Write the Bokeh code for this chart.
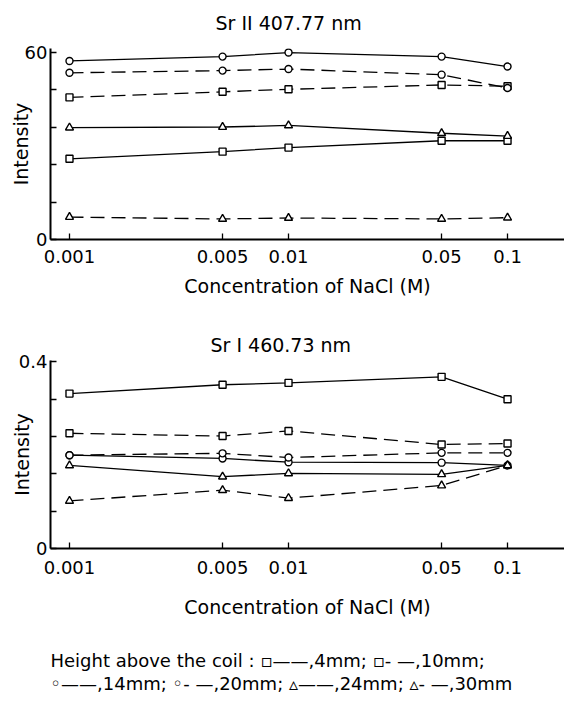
from bokeh.plotting import figure
from bokeh.models import Range1d, FixedTicker, PrintfTickFormatter, Label
from bokeh.layouts import column
from bokeh.embed import file_html
from bokeh.resources import INLINE

# ---- data ----
conc = [0.001, 0.005, 0.01, 0.05, 0.1]
x_tick_labels = ["0.001", "0.005", "0.01", "0.05", "0.1"]
heights = ["4mm", "10mm", "14mm", "20mm", "24mm", "30mm"]

sr2_4mm = [25.9, 28.2, 29.5, 31.7, 31.7]
sr2_10mm = [45.6, 47.4, 48.2, 49.6, 49.2]
sr2_14mm = [57.3, 58.7, 60.0, 58.7, 55.5]
sr2_20mm = [53.5, 54.2, 54.7, 52.9, 48.6]
sr2_24mm = [35.9, 36.1, 36.6, 34.1, 33.2]
sr2_30mm = [7.2, 6.6, 6.9, 6.6, 7.0]

sr1_4mm = [0.332, 0.351, 0.355, 0.368, 0.320]
sr1_10mm = [0.247, 0.241, 0.252, 0.223, 0.225]
sr1_14mm = [0.200, 0.193, 0.185, 0.184, 0.178]
sr1_20mm = [0.200, 0.204, 0.195, 0.205, 0.205]
sr1_24mm = [0.178, 0.154, 0.161, 0.159, 0.178]
sr1_30mm = [0.102, 0.125, 0.108, 0.135, 0.178]

sr2_series = [sr2_4mm, sr2_10mm, sr2_14mm, sr2_20mm, sr2_24mm, sr2_30mm]
sr1_series = [sr1_4mm, sr1_10mm, sr1_14mm, sr1_20mm, sr1_24mm, sr1_30mm]

# ---- styles ----
FONT = "DejaVu Sans"
FS = "18px"
FS_BIG = "19px"
W = 564
markers = ["square", "square", "circle", "circle", "triangle", "triangle"]
dashes = ["solid", "14 7", "solid", "14 7", "solid", "14 7"]
msize = [7, 7, 7, 7, 8, 8]


def text_strip(height, items):
    """A blank figure whose frame is used as a pixel canvas for text."""
    t = figure(width=W, height=height, x_range=Range1d(50, W), y_range=Range1d(0, height),
               output_backend="svg", toolbar_location=None,
               x_axis_location=None, y_axis_location=None,
               min_border_left=50, min_border_right=0,
               min_border_top=0, min_border_bottom=0)
    t.outline_line_color = None
    t.grid.visible = False
    for txt, x, y, fs in items:
        t.add_layout(Label(x=x, y=y, text=txt, text_font=FONT, text_font_size=fs,
                           text_baseline="middle", text_color="black"))
    return t


def panel(title, series, y_end, y_major, y_minor, height, b_top, b_bottom,
          t_offset, t_standoff, lab_standoff, axlab_standoff, ylab_standoff):
    p = figure(width=W, height=height, x_axis_type="log",
               x_range=Range1d(0.000819, 0.182), y_range=Range1d(0, y_end),
               output_backend="svg", toolbar_location=None,
               min_border_left=50, min_border_right=0,
               min_border_top=b_top, min_border_bottom=b_bottom)
    p.outline_line_color = None
    p.grid.visible = False
    p.background_fill_color = "white"
    p.border_fill_color = "white"

    if title:
        p.title.text = title
        p.title.text_font = FONT
        p.title.text_font_size = FS_BIG
        p.title.text_font_style = "normal"
        p.title.text_color = "black"
        p.title.align = "left"
        p.title.offset = t_offset
        p.title.standoff = t_standoff

    for ys, mk, dash, ms in zip(series, markers, dashes, msize):
        p.line(conc, ys, line_color="black", line_width=1.3, line_dash=dash)
        p.scatter(conc, ys, marker=mk, size=ms, line_color="black",
                  line_width=1.4, fill_color="white")

    xa = p.xaxis[0]
    xa.ticker = FixedTicker(ticks=conc)
    xa.formatter = PrintfTickFormatter(format="%g")
    xa.axis_label = "Concentration of NaCl (M)"
    ya = p.yaxis[0]
    ya.ticker = FixedTicker(ticks=y_major, minor_ticks=y_minor)
    ya.axis_label = "Intensity"
    for ax in (xa, ya):
        ax.axis_line_width = 2
        ax.axis_line_color = "black"
        ax.major_tick_in = 6
        ax.major_tick_out = 0
        ax.minor_tick_in = 6
        ax.minor_tick_out = 0
        ax.major_tick_line_width = 1.3
        ax.minor_tick_line_width = 1.3
        ax.major_label_text_font = FONT
        ax.major_label_text_font_size = FS
        ax.major_label_text_color = "black"
        ax.axis_label_text_font = FONT
        ax.axis_label_text_font_size = FS_BIG
        ax.axis_label_text_font_style = "normal"
        ax.axis_label_text_color = "black"
    xa.major_label_standoff = lab_standoff
    xa.axis_label_standoff = axlab_standoff
    ya.major_label_standoff = 3
    ya.axis_label_standoff = ylab_standoff
    return p


# title strip for the upper chart (page rows 0..40)
t1 = text_strip(40, [("Sr II  407.77 nm", 215, 18, FS_BIG)])
# upper chart (page rows 40..300)
p1 = panel(None, sr2_series, 61.3, [0, 60], [12, 24, 36, 48],
           260, 8, 61, 0, 0, 10, 9, -10)
# lower chart (page rows 300..625)
p2 = panel("Sr I  460.73 nm", sr1_series, 0.403, [0, 0.4], [0.08, 0.16, 0.24, 0.32],
           325, 60, 77, 160, 9, 12, 19, -17)

# ---- legend text (page rows 625..700) ----
line1 = "Height above the coil : \u25ab\u2014\u2014,4mm;  \u25ab- \u2014,10mm;"
line2 = "\u25e6\u2014\u2014,14mm; \u25e6- \u2014,20mm; \u25b5\u2014\u2014,24mm; \u25b5- \u2014,30mm"
p3 = text_strip(75, [(line1, 50, 40, FS), (line2, 50, 17, FS)])

layout = column(t1, p1, p2, p3, spacing=0)
open("out.html", "w").write(file_html(layout, INLINE))
